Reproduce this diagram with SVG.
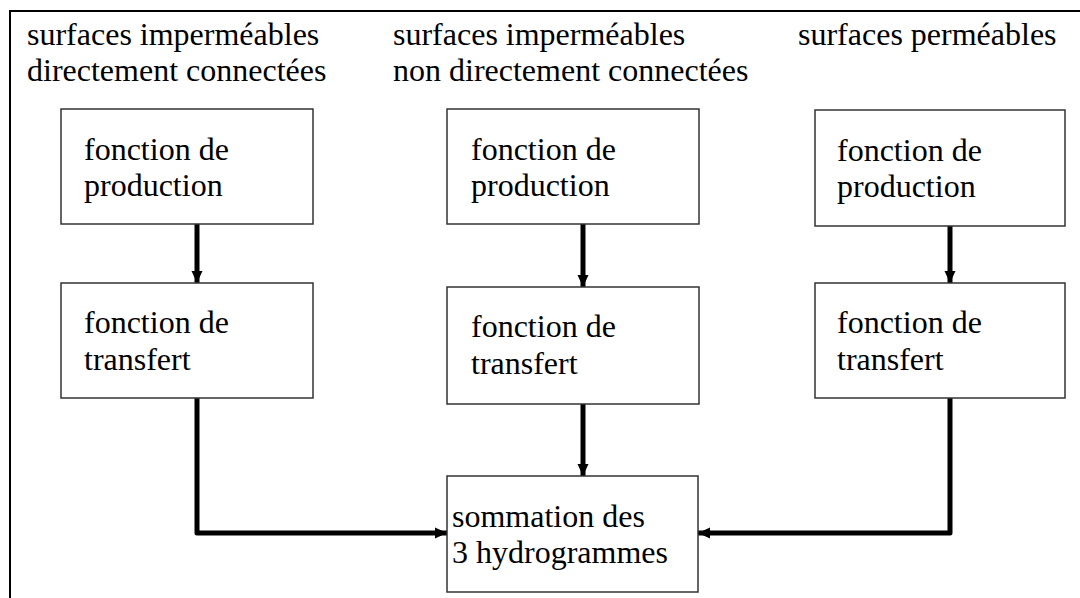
<svg xmlns="http://www.w3.org/2000/svg" width="1080" height="598" viewBox="0 0 1080 598">
<style>
text{font-family:'Liberation Serif','Times New Roman',Times,'DejaVu Serif',serif;font-size:32px;fill:#000}
.box{fill:#fff;stroke:#333;stroke-width:1.5}
.c{fill:none;stroke:#000;stroke-width:5;stroke-linejoin:round}
</style>
<defs>
<marker id="ah" markerUnits="userSpaceOnUse" markerWidth="14" markerHeight="14" viewBox="0 0 14 14" refX="12" refY="7" orient="auto">
<path d="M0,1.5 L12,7 L0,12.5 Z" fill="#000"/>
</marker>
</defs>
<rect width="1080" height="598" fill="#fff"/>
<rect x="10" y="11" width="1100" height="620" fill="none" stroke="#000" stroke-width="2"/>
<g id="titles" font-family="Liberation Serif, serif" font-size="32">
<text x="27" y="45">surfaces imperméables</text>
<text x="27" y="81">directement connectées</text>
<text x="393" y="45">surfaces imperméables</text>
<text x="393" y="81">non directement connectées</text>
<text x="798" y="45">surfaces perméables</text>
</g>
<g id="connectors">
<line class="c" x1="197" y1="224" x2="197" y2="283" marker-end="url(#ah)"/>
<line class="c" x1="583" y1="224" x2="583" y2="287" marker-end="url(#ah)"/>
<line class="c" x1="950" y1="226" x2="950" y2="283" marker-end="url(#ah)"/>
<line class="c" x1="583" y1="404" x2="583" y2="476" marker-end="url(#ah)"/>
<polyline class="c" points="197,398 197,533 447,533" marker-end="url(#ah)"/>
<polyline class="c" points="950,398 950,533 698,533" marker-end="url(#ah)"/>
</g>
<g id="prod1">
<rect class="box" x="61" y="109" width="252" height="115"/>
<text x="84" y="160">fonction de</text>
<text x="84" y="196">production</text>
</g>
<g id="prod2">
<rect class="box" x="447" y="109" width="252" height="115"/>
<text x="471" y="160">fonction de</text>
<text x="471" y="196">production</text>
</g>
<g id="prod3">
<rect class="box" x="815" y="110" width="250" height="116"/>
<text x="837" y="161">fonction de</text>
<text x="837" y="197">production</text>
</g>
<g id="trans1">
<rect class="box" x="61" y="283" width="252" height="115"/>
<text x="84" y="333">fonction de</text>
<text x="84" y="370">transfert</text>
</g>
<g id="trans2">
<rect class="box" x="447" y="287" width="252" height="117"/>
<text x="471" y="337">fonction de</text>
<text x="471" y="374">transfert</text>
</g>
<g id="trans3">
<rect class="box" x="815" y="283" width="250" height="115"/>
<text x="837" y="333">fonction de</text>
<text x="837" y="370">transfert</text>
</g>
<g id="somme">
<rect class="box" x="447" y="476" width="251" height="116"/>
<text x="452" y="527">sommation des</text>
<text x="452" y="563">3 hydrogrammes</text>
</g>
</svg>
